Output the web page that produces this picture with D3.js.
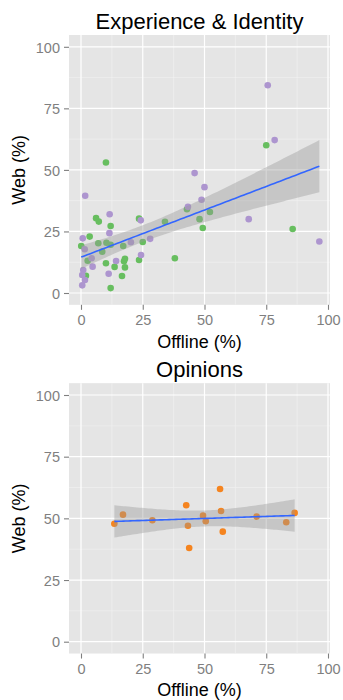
<!DOCTYPE html>
<meta charset="utf-8">
<style>
  body, html { margin:0; padding:0; background:#fff; }
  svg { display:block; }
  text { font-family: "Liberation Sans", Arial, Helvetica, sans-serif; }
</style>
<body>
<svg width="343" height="700"></svg>
<script src="https://d3js.org/d3.v7.min.js"></script>
<script>

// Experience & Identity panel, two groups
var expGreenX = [10.1, 6.1, 7.2, 12, 23.5, 34, 42.9, 48, 49.3, 52.2, 3.5, 0.1, 7, 10.3, 12, 8.6, 17.1, 25, 2.7, 10.1, 17.8, 17.4, 13.6, 17.8, 23.5, 38, 2, 16.6, 12, 75, 85.7];
var expGreenY = [53, 30.4, 29, 27.2, 30.2, 28.9, 34, 30, 26.4, 32.9, 22.9, 19.1, 20.2, 20.4, 19.6, 16.8, 19.1, 20.7, 13.1, 12.1, 13.9, 12.9, 10.6, 10.4, 13.4, 14.1, 7, 6.9, 2, 60, 26];
var expPurpleX = [46, 50, 1.7, 11.6, 24.2, 43.3, 48.8, 11.5, 0.7, 1.5, 20.2, 28, 4.3, 4.7, 14.2, 24.3, 0.9, 0.5, 1.6, 0.5, 11.2, 75.6, 78.4, 67.9, 96.5];
var expPurpleY = [48.7, 43, 39.5, 32, 29.5, 35, 37.9, 24.3, 22.2, 17.8, 20.6, 22, 14.1, 10.7, 13, 15.4, 9.3, 7.3, 5.3, 3.1, 7.8, 84.4, 62.1, 30, 20.9];

// Opinions panel
var opX = [13.5, 17, 28.9, 42.6, 43.3, 43.8, 49.4, 50.5, 56.3, 56.7, 57.4, 71.1, 83.1, 86.5];
var opY = [47.8, 51.5, 49.2, 55.3, 47, 38, 51.1, 48.8, 61.9, 53, 44.6, 50.7, 48.4, 52.2];

var tickValues = [0, 25, 50, 75, 100];
var minorValues = [12.5, 37.5, 62.5, 87.5];

var svg = d3.select("svg");

function pts(xs, ys, color) {
    return xs.map(function(v, i) { return {x: v, y: ys[i], c: color}; });
}

// t quantile 0.975 (Cornish-Fisher style approx)
function tq(df) {
    var z = 1.959964;
    return z + (Math.pow(z,3) + z) / (4*df) + (5*Math.pow(z,5) + 16*Math.pow(z,3) + 3*z) / (96*df*df)
        + (3*Math.pow(z,7) + 19*Math.pow(z,5) + 17*Math.pow(z,3) - 15*z) / (384*df*df*df);
}

function lmFit(data) {
    var n = data.length,
        mx = d3.mean(data, function(d) { return d.x; }),
        my = d3.mean(data, function(d) { return d.y; }),
        sxx = d3.sum(data, function(d) { return (d.x-mx)*(d.x-mx); }),
        sxy = d3.sum(data, function(d) { return (d.x-mx)*(d.y-my); });
    var b = sxy / sxx, a = my - b*mx;
    var s2 = d3.sum(data, function(d) { var r = d.y - a - b*d.x; return r*r; }) / (n-2);
    var t = tq(n-2);
    var ext = d3.extent(data, function(d) { return d.x; });
    return d3.range(80).map(function(i) {
        var xv = ext[0] + (ext[1]-ext[0]) * i / 79;
        var yv = a + b*xv;
        var se = Math.sqrt(s2 * (1/n + (xv-mx)*(xv-mx)/sxx));
        return {x: xv, y: yv, lo: yv - t*se, hi: yv + t*se};
    });
}

function panel(opts) {
    var x = d3.scaleLinear().domain([0, 100]).range([81, 328]);
    var y = d3.scaleLinear().domain([0, 100]).range([opts.y0, opts.y100]);
    var left = x(-4.86), right = x(100.8), top = y(104.8), bottom = y(-4.8);

    var g = svg.append("g");

    g.append("rect")
        .attr("x", left).attr("y", top)
        .attr("width", right - left).attr("height", bottom - top)
        .attr("fill", "#E5E5E5");

    minorValues.forEach(function(v) {
        g.append("line").attr("x1", x(v)).attr("x2", x(v)).attr("y1", top).attr("y2", bottom)
            .attr("stroke", "#F2F2F2").attr("stroke-width", 0.6);
        g.append("line").attr("x1", left).attr("x2", right).attr("y1", y(v)).attr("y2", y(v))
            .attr("stroke", "#F2F2F2").attr("stroke-width", 0.6);
    });
    tickValues.forEach(function(v) {
        g.append("line").attr("x1", x(v)).attr("x2", x(v)).attr("y1", top).attr("y2", bottom)
            .attr("stroke", "#fff").attr("stroke-width", 1.2);
        g.append("line").attr("x1", left).attr("x2", right).attr("y1", y(v)).attr("y2", y(v))
            .attr("stroke", "#fff").attr("stroke-width", 1.2);
    });

    // axes
    var xAxis = g.append("g").attr("transform", "translate(0," + bottom + ")")
        .call(d3.axisBottom(x).tickValues(tickValues).tickSize(5).tickPadding(4));
    var yAxis = g.append("g").attr("transform", "translate(" + left + ",0)")
        .call(d3.axisLeft(y).tickValues(tickValues).tickSize(5).tickPadding(4));
    [xAxis, yAxis].forEach(function(a) {
        a.select(".domain").remove();
        a.selectAll(".tick line").attr("stroke", "#7F7F7F").attr("stroke-width", 1.1);
        a.selectAll(".tick text").attr("fill", "#7F7F7F")
            .style("font-size", "14.5px").style("font-family", "'Liberation Sans', Arial, sans-serif");
    });
    xAxis.selectAll(".tick text").attr("dy", null).attr("y", 20);
    yAxis.selectAll(".tick text").attr("dy", "0.36em");

    // points
    g.selectAll("circle.pt")
        .data(opts.points)
        .enter().append("circle")
        .attr("class", "pt")
        .attr("cx", function(d) { return x(d.x); })
        .attr("cy", function(d) { return y(d.y); })
        .attr("r", 3.3)
        .attr("fill", function(d) { return d.c; });

    // smooth
    var fit = lmFit(opts.points);
    g.append("path")
        .datum(fit)
        .attr("d", d3.area()
            .x(function(d) { return x(d.x); })
            .y0(function(d) { return y(d.lo); })
            .y1(function(d) { return y(d.hi); }))
        .attr("fill", "#999999")
        .attr("fill-opacity", 0.4);
    g.append("path")
        .datum(fit)
        .attr("d", d3.line()
            .x(function(d) { return x(d.x); })
            .y(function(d) { return y(d.y); }))
        .attr("fill", "none")
        .attr("stroke", "#3366FF")
        .attr("stroke-width", 1.6);

    // titles
    g.append("text")
        .attr("x", (left + right) / 2).attr("y", opts.titleY)
        .attr("text-anchor", "middle")
        .style("font-size", "22px").attr("fill", "#000")
        .text(opts.title);
    g.append("text")
        .attr("x", (left + right) / 2).attr("y", opts.xlabY)
        .attr("text-anchor", "middle")
        .style("font-size", "18px").attr("fill", "#000")
        .text("Offline (%)");
    g.append("text")
        .attr("transform", "translate(24.5," + (top + bottom) / 2 + ") rotate(-90)")
        .attr("text-anchor", "middle")
        .style("font-size", "18px").attr("fill", "#000")
        .text("Web (%)");
}

panel({
    title: "Experience & Identity",
    titleY: 29,
    xlabY: 348,
    y0: 293, y100: 46.8,
    points: pts(expGreenX, expGreenY, "#67BE5F").concat(pts(expPurpleX, expPurpleY, "#AD95CF"))
});

panel({
    title: "Opinions",
    titleY: 377,
    xlabY: 696,
    y0: 641.7, y100: 395,
    points: pts(opX, opY, "#F5841F")
});

</script>
</body>
